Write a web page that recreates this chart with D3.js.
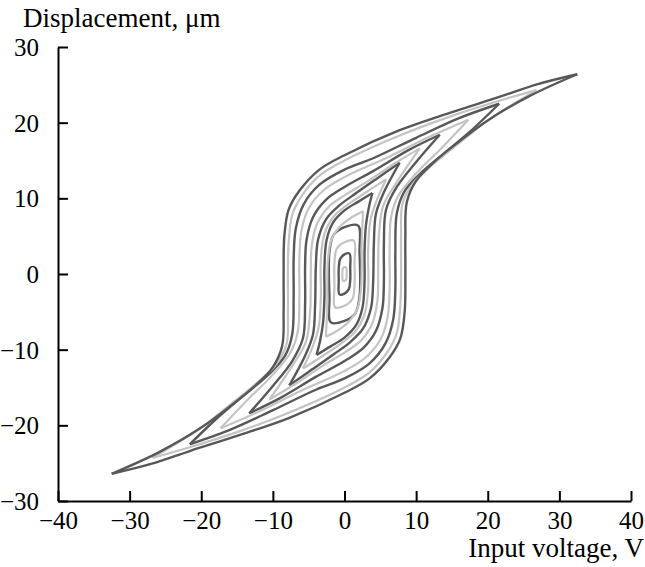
<!DOCTYPE html>
<html><head><meta charset="utf-8">
<script src="https://cdn.jsdelivr.net/npm/d3@7"></script>
<style>body{margin:0;background:#fff}text{font-family:"Liberation Serif","Times New Roman",serif}</style>
</head><body>
<svg id="c" width="645" height="567"></svg>
<script>
const xTicks=[-40,-30,-20,-10,0,10,20,30,40];
const yTicks=[-30,-20,-10,0,10,20,30];
const xTitle="Input voltage, V";
const yTitle="Displacement, μm";
// Open loops: descending branch (+tip to -tip) and ascending branch (-tip to +tip), [voltage V, displacement µm]
const loop1Desc=[[32.5,26.4],[27,25.1],[21.6,23.4],[14.7,21.3],[7.7,19],[0,15.7],[-3.5,13.8],[-6.3,11],[-7.8,8.5],[-8.4,5],[-8.5,0],[-8.5,-5],[-8.7,-9.5],[-10,-12.3],[-12.5,-14.8],[-16,-17.5],[-20,-20.3],[-26,-23.6],[-32.5,-26.4]];
const loop1Asc=[[-32.5,-26.4],[-27,-25.1],[-21.6,-23.4],[-14.7,-21.3],[-7.7,-19],[0,-15.7],[3.5,-13.8],[6.3,-11],[7.8,-8.5],[8.4,-5],[8.5,0],[8.5,5],[8.7,9.5],[10,12.3],[12.5,14.8],[16,17.5],[20,20.3],[26,23.6],[32.5,26.4]];
const loop2Desc=[[26.8,24.3],[21.6,22.9],[14.7,20.8],[7.7,18.3],[0,15],[-3.5,13],[-6,10.3],[-7.3,7.8],[-7.8,4],[-7.9,0],[-7.9,-5],[-8.1,-9.3],[-9.6,-12],[-12.5,-14.6],[-16,-17.3],[-20,-20.3],[-26.8,-24.3]];
const loop2Asc=[[-26.8,-24.3],[-21.6,-22.9],[-14.7,-20.8],[-7.7,-18.3],[0,-15],[3.5,-13],[6,-10.3],[7.3,-7.8],[7.8,-4],[7.9,0],[7.9,5],[8.1,9.3],[9.6,12],[12.5,14.6],[16,17.3],[20,20.3],[26.8,24.3]];
const loop3Desc=[[21.6,22.5],[16,20.6],[10,18],[4,15.3],[0,13.8],[-3.5,11.8],[-5.7,9.2],[-6.8,6],[-7.1,2],[-7.1,-3],[-7.3,-8],[-8.3,-10.8],[-10.5,-13.2],[-14,-16],[-17.5,-18.8],[-21.6,-22.5]];
const loop3Asc=[[-21.6,-22.5],[-16,-20.6],[-10,-18],[-4,-15.3],[0,-13.8],[3.5,-11.8],[5.7,-9.2],[6.8,-6],[7.1,-2],[7.1,3],[7.3,8],[8.3,10.8],[10.5,13.2],[14,16],[17.5,18.8],[21.6,22.5]];
const loop4Desc=[[17.3,20.4],[12,18.2],[6,15.4],[0,12.8],[-3,11],[-5,8.7],[-6,5.8],[-6.3,2],[-6.3,-3],[-6.5,-7.5],[-7.5,-10.3],[-10,-13.3],[-13.5,-16.6],[-17.3,-20.4]];
const loop4Asc=[[-17.3,-20.4],[-12,-18.2],[-6,-15.4],[0,-12.8],[3,-11],[5,-8.7],[6,-5.8],[6.3,-2],[6.3,3],[6.5,7.5],[7.5,10.3],[10,13.3],[13.5,16.6],[17.3,20.4]];
const loop5Desc=[[13.3,18.4],[9,16.4],[4,13.6],[0,11.5],[-2.6,9.8],[-4.4,7.5],[-5.3,4.5],[-5.5,1],[-5.5,-4],[-5.8,-8.5],[-7.3,-11.5],[-10,-14.8],[-13.3,-18.4]];
const loop5Asc=[[-13.3,-18.4],[-9,-16.4],[-4,-13.6],[0,-11.5],[2.6,-9.8],[4.4,-7.5],[5.3,-4.5],[5.5,-1],[5.5,4],[5.8,8.5],[7.3,11.5],[10,14.8],[13.3,18.4]];
const loop6Desc=[[10.5,16.6],[7,14.6],[3,12.1],[0,10.4],[-2.3,8.8],[-3.9,6.5],[-4.6,3.5],[-4.7,0],[-4.8,-5],[-5.4,-9],[-7.2,-12],[-10.5,-16.6]];
const loop6Asc=[[-10.5,-16.6],[-7,-14.6],[-3,-12.1],[0,-10.4],[2.3,-8.8],[3.9,-6.5],[4.6,-3.5],[4.7,0],[4.8,5],[5.4,9],[7.2,12],[10.5,16.6]];
const loop7Desc=[[7.7,14.7],[4.5,12.6],[1.5,10.6],[-0.8,9],[-2.6,7.2],[-3.7,4.5],[-4,1],[-4.1,-4],[-4.4,-8],[-5.5,-10.8],[-7.7,-14.7]];
const loop7Asc=[[-7.7,-14.7],[-4.5,-12.6],[-1.5,-10.6],[0.8,-9],[2.6,-7.2],[3.7,-4.5],[4,-1],[4.1,4],[4.4,8],[5.5,10.8],[7.7,14.7]];
const loop8Desc=[[5.8,12.5],[3,10.8],[0.5,9.2],[-1.5,7.6],[-2.8,5.3],[-3.3,2],[-3.3,-3],[-3.6,-7],[-4.4,-9.5],[-5.8,-12.5]];
const loop8Asc=[[-5.8,-12.5],[-3,-10.8],[-0.5,-9.2],[1.5,-7.6],[2.8,-5.3],[3.3,-2],[3.3,3],[3.6,7],[4.4,9.5],[5.8,12.5]];
const loop9Desc=[[3.9,10.7],[2,9.6],[0,8.4],[-1.6,6.8],[-2.5,4.5],[-2.8,1],[-2.8,-3],[-3,-6.5],[-3.4,-8.8],[-3.9,-10.7]];
const loop9Asc=[[-3.9,-10.7],[-2,-9.6],[0,-8.4],[1.6,-6.8],[2.5,-4.5],[2.8,-1],[2.8,3],[3,6.5],[3.4,8.8],[3.9,10.7]];
const loop10Desc=[[2.6,8.3],[1.2,7.6],[-0.5,6.4],[-1.8,4.6],[-2.3,2],[-2.4,-1],[-2.4,-4],[-2.5,-6.5],[-2.6,-8.3]];
const loop10Asc=[[-2.6,-8.3],[-1.2,-7.6],[0.5,-6.4],[1.8,-4.6],[2.3,-2],[2.4,1],[2.4,4],[2.5,6.5],[2.6,8.3]];
// Small closed loops near the origin
const loop11=[[1.9,6.4],[0,6.2],[-1.5,5.2],[-2.1,3],[-2.1,-3],[-1.9,-6.4],[0,-6.2],[1.5,-5.2],[2.1,-3],[2.1,3]];
const loop12=[[1.3,4.4],[0,4.2],[-1.1,3.3],[-1.4,1.5],[-1.4,-1.5],[-1.3,-4.4],[0,-4.2],[1.1,-3.3],[1.4,-1.5],[1.4,1.5]];
const loop13=[[0.7,2.7],[0,2.6],[-0.6,2],[-0.8,0.8],[-0.8,-0.8],[-0.7,-2.7],[0,-2.6],[0.6,-2],[0.8,-0.8],[0.8,0.8]];
const loop14=[[0.2,0.9],[-0.2,0.8],[-0.3,0],[-0.2,-0.9],[0.2,-0.8],[0.3,0]];
const openLoops=[
 {desc:loop1Desc,asc:loop1Asc,tone:"dark"},
 {desc:loop2Desc,asc:loop2Asc,tone:"light"},
 {desc:loop3Desc,asc:loop3Asc,tone:"dark"},
 {desc:loop4Desc,asc:loop4Asc,tone:"light"},
 {desc:loop5Desc,asc:loop5Asc,tone:"dark"},
 {desc:loop6Desc,asc:loop6Asc,tone:"light"},
 {desc:loop7Desc,asc:loop7Asc,tone:"dark"},
 {desc:loop8Desc,asc:loop8Asc,tone:"light"},
 {desc:loop9Desc,asc:loop9Asc,tone:"dark"},
 {desc:loop10Desc,asc:loop10Asc,tone:"light"}
];
const closedLoops=[
 {pts:loop11,tone:"dark"},
 {pts:loop12,tone:"light"},
 {pts:loop13,tone:"dark"},
 {pts:loop14,tone:"light"}
];
const toneColor={dark:"#585858",light:"#c4c4c4"};
const toneWidth={dark:2.4,light:2.2};

const svg=d3.select("#c");
const x=d3.scaleLinear().domain([-40,40]).range([58,631]);
const y=d3.scaleLinear().domain([-30,30]).range([501,47]);

const line=d3.line().x(d=>x(d[0])).y(d=>y(d[1])).curve(d3.curveCatmullRom.alpha(0.5));
const lineC=d3.line().x(d=>x(d[0])).y(d=>y(d[1])).curve(d3.curveCatmullRomClosed.alpha(0.5));
const g=svg.append("g");
closedLoops.slice().reverse().forEach(L=>{
  g.append("path").attr("d",lineC(L.pts)).attr("fill","none")
   .attr("stroke",toneColor[L.tone]).attr("stroke-width",toneWidth[L.tone]);
});
openLoops.slice().reverse().forEach(L=>{
  [L.desc,L.asc].forEach(b=>{
    g.append("path").attr("d",line(b)).attr("fill","none")
     .attr("stroke",toneColor[L.tone]).attr("stroke-width",toneWidth[L.tone]).attr("stroke-linejoin","round");
  });
});

const xa=svg.append("g").attr("transform",`translate(0,${y(-30)})`)
 .call(d3.axisBottom(x).tickValues(xTicks).tickSizeInner(-10).tickSizeOuter(0).tickPadding(10));
const ya=svg.append("g").attr("transform",`translate(${x(-40)},0)`)
 .call(d3.axisLeft(y).tickValues(yTicks).tickSizeInner(-10).tickSizeOuter(0).tickPadding(19));
[xa,ya].forEach(a=>{
  a.selectAll("path,line").attr("stroke","#000").attr("stroke-width",2);
  a.selectAll("text").attr("font-size",25).attr("font-family","Liberation Serif").attr("fill","#000");
});
ya.selectAll("text").attr("dy","0.34em");

svg.append("text").attr("x",644).attr("y",557).attr("text-anchor","end")
 .attr("font-size",27).text(xTitle);
svg.append("text").attr("x",23).attr("y",27)
 .attr("font-size",27).text(yTitle);
</script>
</body></html>
